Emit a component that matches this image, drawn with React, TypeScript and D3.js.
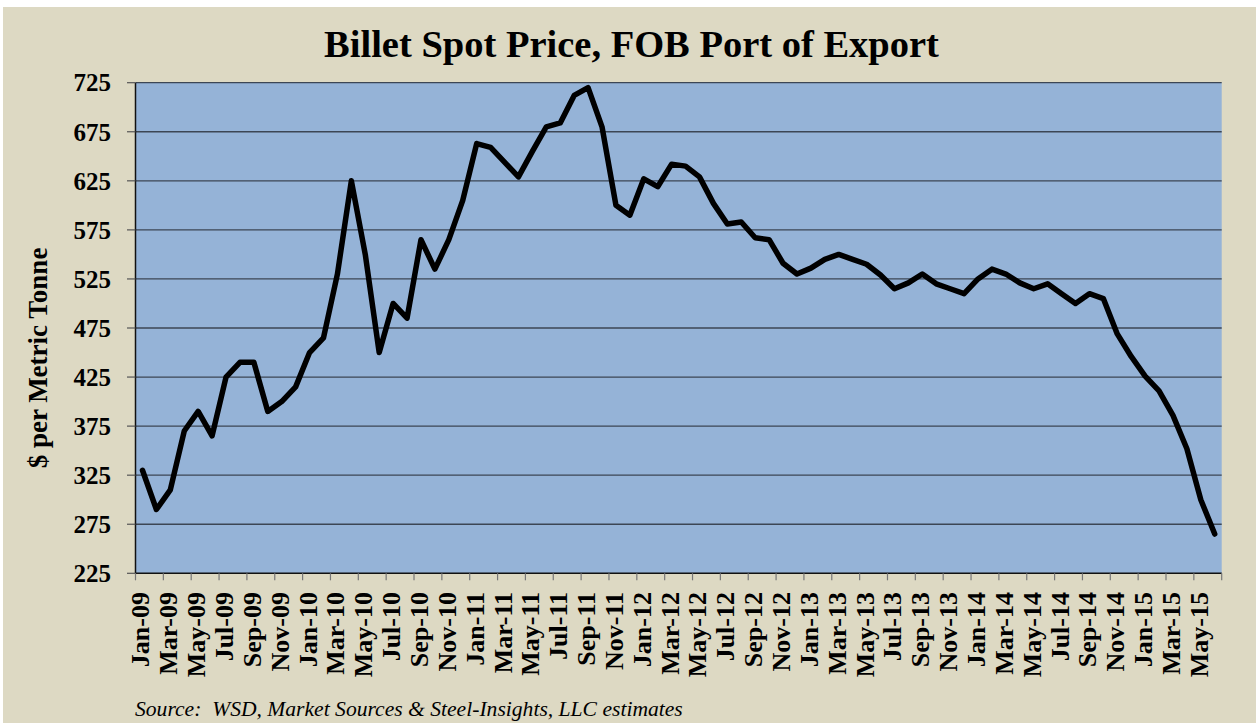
import * as d3 from "d3"

// monthly labels, Jan-09 .. Jun-15
const months = [
  "Jan-09", "Feb-09", "Mar-09", "Apr-09", "May-09", "Jun-09", "Jul-09", "Aug-09", "Sep-09", "Oct-09", "Nov-09", "Dec-09",
  "Jan-10", "Feb-10", "Mar-10", "Apr-10", "May-10", "Jun-10", "Jul-10", "Aug-10", "Sep-10", "Oct-10", "Nov-10", "Dec-10",
  "Jan-11", "Feb-11", "Mar-11", "Apr-11", "May-11", "Jun-11", "Jul-11", "Aug-11", "Sep-11", "Oct-11", "Nov-11", "Dec-11",
  "Jan-12", "Feb-12", "Mar-12", "Apr-12", "May-12", "Jun-12", "Jul-12", "Aug-12", "Sep-12", "Oct-12", "Nov-12", "Dec-12",
  "Jan-13", "Feb-13", "Mar-13", "Apr-13", "May-13", "Jun-13", "Jul-13", "Aug-13", "Sep-13", "Oct-13", "Nov-13", "Dec-13",
  "Jan-14", "Feb-14", "Mar-14", "Apr-14", "May-14", "Jun-14", "Jul-14", "Aug-14", "Sep-14", "Oct-14", "Nov-14", "Dec-14",
  "Jan-15", "Feb-15", "Mar-15", "Apr-15", "May-15", "Jun-15",
]

// $ per metric tonne
const prices = [
  330, 290, 310, 370, 390, 365, 425, 440, 440, 390, 400, 415,
  450, 465, 530, 625, 550, 450, 500, 485, 565, 535, 565, 605,
  663, 659, 644, 629, 655, 680, 684, 712, 720, 680, 600, 590,
  627, 619, 642, 640, 629, 602, 581, 583, 567, 565, 541, 530,
  536, 545, 550, 545, 540, 529, 515, 521, 530, 520, 515, 510,
  525, 535, 530, 521, 515, 520, 510, 500, 510, 505, 469, 446,
  426, 411, 386, 352, 300, 265,
]

const yTicks = [225, 275, 325, 375, 425, 475, 525, 575, 625, 675, 725]

const W = 1256
const H = 723
const plot = { left: 135.5, right: 1221.7, top: 82.7, bottom: 573.3 }

const serif = "'Liberation Serif', 'Times New Roman', serif"

export default function App() {
  const x = d3.scaleBand<string>().domain(months).range([plot.left, plot.right]).padding(0)
  const y = d3.scaleLinear().domain([225, 725]).range([plot.bottom, plot.top])
  const bw = x.bandwidth()
  const cx = (m: string) => (x(m) as number) + bw / 2

  const line = d3
    .line<number>()
    .x((_, i) => cx(months[i]))
    .y((d) => y(d))

  // tick marks on category boundaries, every 2nd month
  const xTickPos = months.filter((_, i) => i % 2 === 0).map((m) => x(m) as number)
  xTickPos.push(plot.right)
  const labelled = months.filter((_, i) => i % 2 === 0)

  return (
    <svg
      width={W}
      height={H}
      style={{ position: "fixed", left: 0, top: 0, background: "#fff" }}
    >
      <rect x={3} y={7} width={W - 3} height={H - 7} fill="#ddd9c3" />
      <text
        x={631.5}
        y={57}
        textAnchor="middle"
        fontFamily={serif}
        fontWeight="bold"
        fontSize={38.5}
        fill="#000"
      >
        Billet Spot Price, FOB Port of Export
      </text>

      <rect
        x={plot.left}
        y={plot.top}
        width={plot.right - plot.left}
        height={plot.bottom - plot.top}
        fill="#95b3d7"
      />

      {/* gridlines */}
      {yTicks.slice(1).map((t) => (
        <line
          key={"g" + t}
          x1={plot.left}
          x2={plot.right}
          y1={y(t)}
          y2={y(t)}
          stroke="#3c4654"
          strokeWidth={1.3}
        />
      ))}

      {/* y axis */}
      <line x1={plot.left} x2={plot.left} y1={plot.top} y2={plot.bottom} stroke="#111" strokeWidth={1.5} />
      {yTicks.map((t) => (
        <g key={"y" + t}>
          <line x1={127} x2={plot.left} y1={y(t)} y2={y(t)} stroke="#555" strokeWidth={1.2} />
          <text
            x={111}
            y={y(t)}
            dy="0.35em"
            textAnchor="end"
            fontFamily={serif}
            fontWeight="bold"
            fontSize={25}
            fill="#000"
          >
            {t}
          </text>
        </g>
      ))}
      <text
        transform={`translate(47,${358}) rotate(-90)`}
        textAnchor="middle"
        fontFamily={serif}
        fontWeight="bold"
        fontSize={27}
        fill="#000"
      >
        $ per Metric Tonne
      </text>

      {/* x axis */}
      <line x1={plot.left} x2={plot.right} y1={plot.bottom} y2={plot.bottom} stroke="#111" strokeWidth={1.5} />
      {xTickPos.map((p, i) => (
        <line key={"xt" + i} x1={p} x2={p} y1={plot.bottom} y2={plot.bottom + 7} stroke="#777" strokeWidth={1.2} />
      ))}
      {labelled.map((m) => (
        <text
          key={"xl" + m}
          transform={`translate(${cx(m) + 7},592) rotate(-90)`}
          textAnchor="end"
          fontFamily={serif}
          fontWeight="bold"
          fontSize={26}
          fill="#000"
        >
          {m}
        </text>
      ))}

      {/* price line */}
      <path
        d={line(prices) || ""}
        fill="none"
        stroke="#000"
        strokeWidth={5.5}
        strokeLinejoin="round"
        strokeLinecap="round"
      />

      <text
        x={135}
        y={716}
        fontFamily={serif}
        fontStyle="italic"
        fontSize={21.6}
        fill="#000"
        style={{ whiteSpace: "pre" }}
      >
        {"Source:  WSD, Market Sources & Steel-Insights, LLC estimates"}
      </text>
    </svg>
  )
}
